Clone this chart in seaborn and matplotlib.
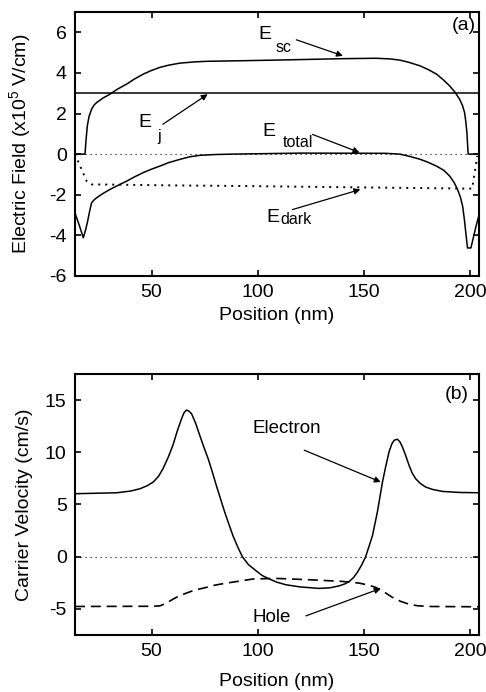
import matplotlib
matplotlib.use("Agg")
import matplotlib.pyplot as plt
from matplotlib.transforms import offset_copy
import seaborn as sns

# ---------------- panel (a): electric field profiles (x1e5 V/cm) ----------------
esc_pos = [14, 18.7, 19.2, 19.8, 20.6, 21.8, 23.0, 24.2, 27.0, 30.4, 34.0, 38.3,
           42.0, 46.1, 50.0, 53.9, 58.0, 63.3, 70.0, 75.8, 92.7, 108.5, 139.8,
           155.4, 162.0, 166.8, 171.0, 176.2, 180.0, 184.0, 187.0, 190.2, 192.7,
           194.9, 196.2, 197.2, 197.8, 198.3, 198.9, 204]
esc_val = [0.0, 0.0, 0.7, 1.39, 1.85, 2.21, 2.42, 2.54, 2.75, 2.95, 3.2, 3.45,
           3.7, 3.94, 4.12, 4.27, 4.38, 4.48, 4.54, 4.57, 4.60, 4.63, 4.70,
           4.72, 4.69, 4.63, 4.52, 4.35, 4.17, 3.94, 3.68, 3.36, 3.05,
           2.70, 2.4, 2.05, 1.6, 1.06, 0.0, 0.0]

etot_pos = [14, 16.0, 17.9, 18.8, 19.8, 20.8, 21.8, 23.0, 24.2, 27.0, 30.4, 34.0,
            38.3, 42.0, 46.1, 50.0, 53.9, 58.0, 63.3, 68.0, 72.7, 80.0, 88.0,
            120.0, 160.0, 166.8, 171.0, 176.2, 180.0, 184.0, 187.5, 190.2, 192.2,
            193.9, 195.2, 196.3, 197.1, 197.8, 198.6, 200.2, 202.6, 204]
etot_val = [-2.9, -3.5, -4.12, -3.8, -3.38, -2.85, -2.4, -2.25, -2.15, -1.95,
            -1.74, -1.55, -1.33, -1.12, -0.91, -0.74, -0.59, -0.42, -0.26, -0.13,
            -0.06, -0.02, 0.0, 0.05, 0.04, 0.0, -0.1, -0.25, -0.4, -0.59, -0.8,
            -1.08, -1.38, -1.74, -2.1, -2.56, -3.2, -3.88, -4.62, -4.62, -3.55,
            -3.0]

edark_pos = [14, 17.1, 19.5, 21.8, 30, 60, 92.7, 150, 200.8, 203.2]
edark_val = [0.0, -0.75, -1.33, -1.49, -1.50, -1.54, -1.57, -1.64, -1.70, -0.09]

ej_level = 3.0

zero_pos = [14, 204]
zero_val = [0.0, 0.0]

# ---------------- panel (b): carrier velocities (cm/s) ----------------
elec_pos = [14, 33.6, 40.0, 44.5, 48.0, 50.8, 53.3, 55.4, 57.8, 60.1, 62.2, 64.1,
            65.3, 66.4, 67.5, 68.8, 70.7, 72.7, 74.6, 76.6, 78.6, 80.5, 82.5,
            84.4, 86.4, 88.3, 90.5, 92.7, 95.5, 99.1, 102.0, 105.4, 109.0, 113.2,
            120.0, 128.9, 134.0, 138.3, 141.0, 143.0, 145.0, 146.8, 148.8, 150.7,
            152.3, 153.9, 155.0, 156.2, 157.4, 158.6, 160.2, 161.7, 163.0, 164.1,
            165.6, 166.8, 168.0, 169.5, 171.1, 172.6, 174.2, 176.5, 178.9, 182.0,
            186.8, 195.0, 204]
elec_val = [6.03, 6.12, 6.28, 6.5, 6.8, 7.15, 7.7, 8.43, 9.5, 10.7, 12.1, 13.2,
            13.8, 14.04, 13.95, 13.7, 12.8, 11.6, 10.5, 9.4, 8.1, 6.8, 5.5,
            4.27, 3.1, 2.0, 0.95, 0.0, -0.75, -1.34, -1.8, -2.14, -2.45, -2.69,
            -2.9, -3.04, -2.98, -2.79, -2.6, -2.37, -2.0, -1.5, -0.8, 0.0,
            1.0, 2.02, 3.1, 4.27, 5.7, 7.15, 8.7, 10.04, 10.8, 11.15,
            11.25, 11.0, 10.5, 9.7, 8.75, 8.0, 7.47, 7.0, 6.67, 6.45,
            6.25, 6.15, 6.12]

hole_pos = [14, 50.0, 53.9, 57.0, 60.1, 63.0, 66.4, 70.0, 75.8, 80.0, 85.2, 92.7,
            97.6, 108.5, 124.2, 139.8, 147.6, 152.0, 155.4, 159.5, 163.3, 167.0,
            171.1, 175.0, 180.5, 204]
hole_val = [-4.77, -4.75, -4.71, -4.45, -4.07, -3.75, -3.49, -3.22, -2.94, -2.72,
            -2.53, -2.30, -2.14, -2.08, -2.21, -2.37, -2.53, -2.72, -2.94, -3.4,
            -3.9, -4.27, -4.55, -4.7, -4.77, -4.80]

pos_ticks = [50, 100, 150, 200]
field_ticks = [-6, -4, -2, 0, 2, 4, 6]
vel_ticks = [-5, 0, 5, 10, 15]

sns.set_theme(style="ticks")
plt.rcParams["font.family"] = ["Liberation Sans", "DejaVu Sans"]
plt.rcParams["mathtext.fontset"] = "custom"
plt.rcParams["mathtext.rm"] = "Liberation Sans"
plt.rcParams["mathtext.it"] = "Liberation Sans:italic"
plt.rcParams["mathtext.bf"] = "Liberation Sans:bold"
plt.rcParams["axes.unicode_minus"] = False
plt.rcParams["text.color"] = "black"
plt.rcParams["axes.labelcolor"] = "black"

fig = plt.figure(figsize=(4.86, 6.92), dpi=100)
ax1 = fig.add_axes([0.1543, 0.6012, 0.8313, 0.3815])
ax2 = fig.add_axes([0.1543, 0.0824, 0.8313, 0.3772])

LW = 1.1
solid = dict(color="black", lw=LW, estimator=None, sort=False, legend=False)

# panel (a)
sns.lineplot(x=zero_pos, y=zero_val, ax=ax1, color="black", lw=0.8,
             linestyle=(0, (1, 3.5)), estimator=None, sort=False, legend=False)
ax1.axhline(ej_level, color="black", lw=LW)
sns.lineplot(x=esc_pos, y=esc_val, ax=ax1, **solid)
sns.lineplot(x=etot_pos, y=etot_val, ax=ax1, **solid)
sns.lineplot(x=edark_pos, y=edark_val, ax=ax1, color="black", lw=1.4,
             linestyle=(0, (1, 2.6)), estimator=None, sort=False, legend=False)

# panel (b)
sns.lineplot(x=zero_pos, y=zero_val, ax=ax2, color="black", lw=0.8,
             linestyle=(0, (1, 3.5)), estimator=None, sort=False, legend=False)
sns.lineplot(x=elec_pos, y=elec_val, ax=ax2, **solid)
sns.lineplot(x=hole_pos, y=hole_val, ax=ax2, color="black", lw=1.2,
             linestyle=(0, (6, 3.5)), estimator=None, sort=False, legend=False)

for ax in (ax1, ax2):
    ax.set_xlim(14, 204)
    ax.set_xticks(pos_ticks)
    ax.tick_params(direction="in", top=True, right=True, length=4, width=1.2,
                   labelsize=14, pad=6, colors="black")
    for s in ax.spines.values():
        s.set_linewidth(1.5)
        s.set_color("black")
    ax.set_xlabel("Position (nm)", fontsize=14)

ax1.xaxis.set_label_coords(0.5, -0.118)
ax2.xaxis.set_label_coords(0.5, -0.145)

ax1.set_ylim(-6, 7)
ax1.set_yticks(field_ticks)
ax1.set_ylabel("Electric Field (x10$^5$ V/cm)", fontsize=14)
ax1.yaxis.set_label_coords(-0.104, 0.5)

ax2.set_ylim(-7.5, 17.5)
ax2.set_yticks(vel_ticks)
ax2.set_ylabel("Carrier Velocity (cm/s)", fontsize=14)
ax2.yaxis.set_label_coords(-0.104, 0.5)

arrow = dict(arrowstyle="-|>", color="black", lw=0.9, mutation_scale=9,
             shrinkA=0, shrinkB=0)


def field_label(ax, x, y, sub, dx, dy):
    ax.text(x, y, "E", fontsize=14, ha="left", va="baseline")
    tr = offset_copy(ax.transData, fig=ax.figure, x=dx, y=dy, units="points")
    ax.text(x, y, sub, transform=tr, fontsize=11.5, ha="left", va="baseline")


field_label(ax1, 100.4, 5.67, "sc", 12.2, -9.4)
ax1.annotate("", xy=(140.0, 4.84), xytext=(118.1, 5.63), arrowprops=arrow)

field_label(ax1, 43.6, 1.32, "j", 13.7, -10.0)
ax1.annotate("", xy=(76.4, 2.95), xytext=(55.3, 1.47), arrowprops=arrow)

field_label(ax1, 102.3, 0.88, "total", 14.4, -7.9)
ax1.annotate("", xy=(147.8, 0.08), xytext=(125.7, 0.97), arrowprops=arrow)

field_label(ax1, 104.2, -3.32, "dark", 10.0, -1.5)
ax1.annotate("", xy=(148.2, -1.74), xytext=(116.3, -2.73), arrowprops=arrow)

ax1.text(202.4, 6.31, "(a)", fontsize=14, ha="right", va="center")

ax2.text(97.6, 12.28, "Electron", fontsize=13.5, ha="left", va="center")
ax2.annotate("", xy=(157.8, 7.15), xytext=(121.8, 10.2), arrowprops=arrow)
ax2.text(97.6, -5.85, "Hole", fontsize=13.5, ha="left", va="center")
ax2.annotate("", xy=(157.8, -3.04), xytext=(122.6, -5.67), arrowprops=arrow)
ax2.text(199.0, 15.55, "(b)", fontsize=14, ha="right", va="center")

fig.savefig("out.png", dpi=100)
